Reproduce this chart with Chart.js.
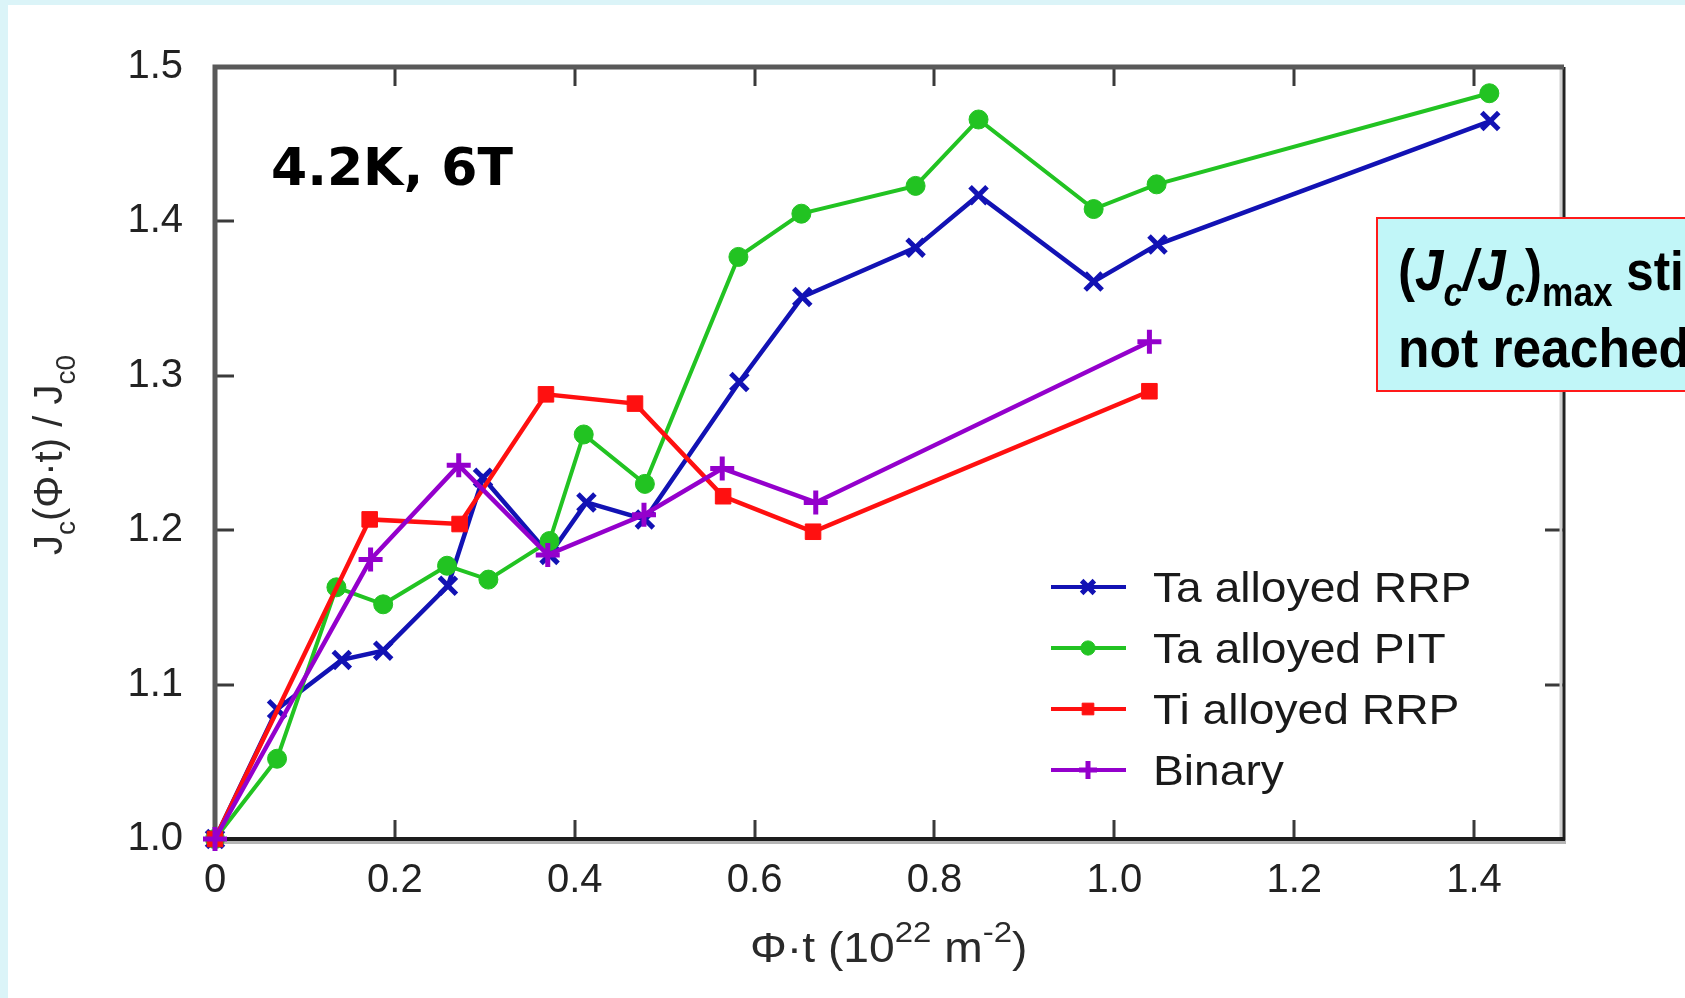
<!DOCTYPE html>
<html>
<head>
<meta charset="utf-8">
<title>Jc(fluence) / Jc0</title>
<script src="https://cdn.jsdelivr.net/npm/chart.js@4/dist/chart.umd.min.js"></script>
<style>
  html, body { margin: 0; padding: 0; }
  body { width: 1685px; height: 998px; background: #dbf4f8; position: relative; overflow: hidden; }
  #panel { position: absolute; left: 8px; top: 5px; right: 0; bottom: 0; background: #fff; }
  #fluenceChart { position: absolute; left: 0; top: 0; }
</style>
</head>
<body>
<div id="panel"></div>
<canvas id="fluenceChart" width="1685" height="998"></canvas>
<script>
// fluence (10^22 m^-2) vs Jc/Jc0
const taRrpX = [0, 0.069, 0.141, 0.187, 0.259, 0.298, 0.372, 0.413, 0.478, 0.583, 0.653, 0.779, 0.849, 0.977, 1.048, 1.418];
const taRrpY = [1.0, 1.084, 1.116, 1.122, 1.164, 1.234, 1.184, 1.218, 1.207, 1.296, 1.351, 1.383, 1.417, 1.361, 1.385, 1.465];

const taPitX = [0, 0.069, 0.135, 0.187, 0.258, 0.304, 0.372, 0.410, 0.478, 0.582, 0.652, 0.779, 0.849, 0.977, 1.047, 1.417];
const taPitY = [1.0, 1.052, 1.163, 1.152, 1.177, 1.168, 1.193, 1.262, 1.230, 1.377, 1.405, 1.423, 1.466, 1.408, 1.424, 1.483];

const tiRrpX = [0, 0.172, 0.272, 0.368, 0.467, 0.565, 0.665, 1.039];
const tiRrpY = [1.0, 1.207, 1.204, 1.288, 1.282, 1.222, 1.199, 1.290];

const binaryX = [0, 0.173, 0.271, 0.370, 0.477, 0.564, 0.668, 1.039];
const binaryY = [1.0, 1.181, 1.242, 1.184, 1.210, 1.240, 1.218, 1.322];

const seriesNames = ["Ta alloyed RRP", "Ta alloyed PIT", "Ti alloyed RRP", "Binary"];

const xTicks = [0, 0.2, 0.4, 0.6, 0.8, 1.0, 1.2, 1.4];
const xTickLabels = ["0", "0.2", "0.4", "0.6", "0.8", "1.0", "1.2", "1.4"];
const yTicks = [1.0, 1.1, 1.2, 1.3, 1.4, 1.5];
const yTickLabels = ["1.0", "1.1", "1.2", "1.3", "1.4", "1.5"];

const SANS = '"Liberation Sans", Arial, Helvetica, sans-serif';

function toPoints(xs, ys) {
    return xs.map((x, i) => ({ x: x, y: ys[i] }));
}

// draw a row of text pieces (for sub/superscripts), optionally stretched horizontally
function drawRuns(ctx, x, y, runs, sx) {
    ctx.save();
    ctx.translate(x, y);
    ctx.scale(sx || 1, 1);
    let cx = 0;
    runs.forEach(r => {
        ctx.font = r.font;
        ctx.fillText(r.t, cx, r.dy || 0);
        cx += ctx.measureText(r.t).width;
    });
    ctx.restore();
}

function runsWidth(ctx, runs) {
    let w = 0;
    runs.forEach(r => { ctx.font = r.font; w += ctx.measureText(r.t).width; });
    return w;
}

// frame with inward ticks on all four sides
const framePlugin = {
    id: "frame",
    beforeDatasetsDraw(chart) {
        const ctx = chart.ctx;
        const a = chart.chartArea;
        const xs = chart.scales.x, ys = chart.scales.y;
        ctx.save();
        ctx.lineCap = "butt";

        // ticks
        ctx.strokeStyle = "#3a3a3a";
        ctx.lineWidth = 3;
        const tl = 19;
        xTicks.forEach(v => {
            const px = Math.round(xs.getPixelForValue(v));
            ctx.beginPath();
            ctx.moveTo(px, a.bottom); ctx.lineTo(px, a.bottom - tl);
            ctx.moveTo(px, a.top); ctx.lineTo(px, a.top + tl);
            ctx.stroke();
        });
        yTicks.forEach(v => {
            const py = Math.round(ys.getPixelForValue(v));
            ctx.beginPath();
            ctx.moveTo(a.left, py); ctx.lineTo(a.left + tl, py);
            ctx.moveTo(a.right, py); ctx.lineTo(a.right - tl, py);
            ctx.stroke();
        });

        // right edge: light shadow + dark line
        ctx.strokeStyle = "#d0d0d0";
        ctx.lineWidth = 3;
        ctx.beginPath(); ctx.moveTo(a.right - 3, a.top); ctx.lineTo(a.right - 3, a.bottom); ctx.stroke();
        ctx.strokeStyle = "#222";
        ctx.beginPath(); ctx.moveTo(a.right, a.top); ctx.lineTo(a.right, a.bottom + 2); ctx.stroke();

        // bottom: gray shadow under a black line
        ctx.strokeStyle = "#b5b5b5";
        ctx.lineWidth = 4;
        ctx.beginPath(); ctx.moveTo(a.left, a.bottom + 3); ctx.lineTo(a.right + 2, a.bottom + 3); ctx.stroke();
        ctx.strokeStyle = "#1c1c1c";
        ctx.lineWidth = 4;
        ctx.beginPath(); ctx.moveTo(a.left, a.bottom); ctx.lineTo(a.right + 1, a.bottom); ctx.stroke();

        // left and top
        ctx.strokeStyle = "#595959";
        ctx.lineWidth = 5;
        ctx.beginPath();
        ctx.moveTo(a.left, a.bottom); ctx.lineTo(a.left, a.top);
        ctx.lineTo(a.right, a.top);
        ctx.stroke();
        ctx.restore();
    }
};

const labelsPlugin = {
    id: "labels",
    afterDraw(chart) {
        const ctx = chart.ctx;
        ctx.save();
        ctx.textBaseline = "alphabetic";
        ctx.textAlign = "left";

        // legend inside the plot
        const rowTop = 587, rowGap = 61;
        chart.data.datasets.forEach((ds, i) => {
            const yy = rowTop + i * rowGap;
            ctx.strokeStyle = ds.borderColor;
            ctx.lineWidth = 4;
            ctx.beginPath(); ctx.moveTo(1051, yy); ctx.lineTo(1126, yy); ctx.stroke();
            ctx.fillStyle = ds.pointBackgroundColor;
            ctx.strokeStyle = ds.pointBorderColor;
            ctx.lineWidth = ds.pointBorderWidth;
            if (Chart.helpers && Chart.helpers.drawPoint) {
                Chart.helpers.drawPoint(ctx, {
                    pointStyle: ds.pointStyle, radius: ds.pointRadius * 0.75,
                    borderWidth: ds.pointBorderWidth, rotation: 0
                }, 1088, yy);
            }
            ctx.fillStyle = "#1a1a1a";
            drawRuns(ctx, 1153, yy + 15, [{ t: seriesNames[i], font: "42px " + SANS }], 1.1);
        });

        // condition label
        ctx.fillStyle = "#000";
        ctx.font = 'bold 52px "DejaVu Sans", sans-serif';
        ctx.fillText("4.2K, 6T", 271, 185);

        // x axis title
        ctx.fillStyle = "#2a2a2a";
        drawRuns(ctx, 750, 962, [
            { t: "\u03A6\u00B7t (10", font: "42px " + SANS },
            { t: "22", font: "30px " + SANS, dy: -20 },
            { t: " m", font: "42px " + SANS },
            { t: "-2", font: "30px " + SANS, dy: -20 },
            { t: ")", font: "42px " + SANS }
        ], 1.1);

        // y axis title, rotated
        const yRuns = [
            { t: "J", font: "40px " + SANS },
            { t: "c", font: "28px " + SANS, dy: 13 },
            { t: "(\u03A6\u00B7t) / J", font: "40px " + SANS },
            { t: "c0", font: "28px " + SANS, dy: 13 }
        ];
        const yw = runsWidth(ctx, yRuns);
        ctx.save();
        ctx.translate(62, 455);
        ctx.rotate(-Math.PI / 2);
        drawRuns(ctx, -yw / 2, 0, yRuns, 1);
        ctx.restore();

        // annotation box
        ctx.fillStyle = "#c1f6f8";
        ctx.fillRect(1376, 217, 330, 175);
        ctx.strokeStyle = "#ff1a1a";
        ctx.lineWidth = 2;
        ctx.strokeRect(1377, 218, 330, 173);
        ctx.fillStyle = "#000";
        const B = "bold 58px " + SANS, BI = "italic bold 58px " + SANS;
        const SBI = "italic bold 40px " + SANS, SB = "bold 40px " + SANS;
        drawRuns(ctx, 1398, 290, [
            { t: "(", font: B },
            { t: "J", font: BI },
            { t: "c", font: SBI, dy: 16 },
            { t: "/", font: BI },
            { t: "J", font: BI },
            { t: "c", font: SBI, dy: 16 },
            { t: ")", font: B },
            { t: "max", font: SB, dy: 16 },
            { t: " still", font: "bold 56px " + SANS }
        ], 0.88);
        drawRuns(ctx, 1398, 367, [
            { t: "not reached", font: "bold 56px " + SANS }
        ], 0.92);
        ctx.restore();
    }
};

const ctx = document.getElementById("fluenceChart").getContext("2d");

new Chart(ctx, {
    type: "line",
    data: {
        datasets: [
            {
                label: seriesNames[0],
                data: toPoints(taRrpX, taRrpY),
                borderColor: "#1212b4",
                pointBackgroundColor: "#1212b4",
                pointBorderColor: "#1212b4",
                pointStyle: "crossRot",
                pointRadius: 12,
                pointBorderWidth: 5,
                borderWidth: 4.5,
                order: 4
            },
            {
                label: seriesNames[1],
                data: toPoints(taPitX, taPitY),
                borderColor: "#22c322",
                pointBackgroundColor: "#22c322",
                pointBorderColor: "#22c322",
                pointStyle: "circle",
                pointRadius: 9.5,
                pointBorderWidth: 1,
                borderWidth: 4,
                order: 3
            },
            {
                label: seriesNames[2],
                data: toPoints(tiRrpX, tiRrpY),
                borderColor: "#ff1010",
                pointBackgroundColor: "#ff1010",
                pointBorderColor: "#ff1010",
                pointStyle: "rect",
                pointRadius: 11,
                pointBorderWidth: 1,
                borderWidth: 4.5,
                order: 2
            },
            {
                label: seriesNames[3],
                data: toPoints(binaryX, binaryY),
                borderColor: "#9400cc",
                pointBackgroundColor: "#9400cc",
                pointBorderColor: "#9400cc",
                pointStyle: "cross",
                pointRadius: 12,
                pointBorderWidth: 5,
                borderWidth: 4.5,
                order: 1
            }
        ]
    },
    options: {
        responsive: false,
        animation: false,
        layout: { padding: { top: 67, right: 121, left: 0, bottom: 0 } },
        elements: { line: { tension: 0, fill: false } },
        datasets: { line: { clip: false } },
        scales: {
            x: {
                type: "linear",
                min: 0,
                max: 1.5,
                afterBuildTicks: s => { s.ticks = xTicks.map(v => ({ value: v })); },
                afterFit: s => { s.height = 159; },
                grid: { display: false, drawTicks: false },
                border: { display: false },
                ticks: {
                    autoSkip: false,
                    maxRotation: 0,
                    padding: 18,
                    color: "#222",
                    font: { family: SANS, size: 40 },
                    callback: (v, i) => xTickLabels[i]
                }
            },
            y: {
                type: "linear",
                min: 1.0,
                max: 1.5,
                afterBuildTicks: s => { s.ticks = yTicks.map(v => ({ value: v })); },
                afterFit: s => { s.width = 215; },
                grid: { display: false, drawTicks: false },
                border: { display: false },
                ticks: {
                    autoSkip: false,
                    padding: 32,
                    color: "#222",
                    font: { family: SANS, size: 40 },
                    callback: (v, i) => yTickLabels[i]
                }
            }
        },
        plugins: {
            legend: { display: false },
            tooltip: { enabled: false }
        }
    },
    plugins: [framePlugin, labelsPlugin]
});
</script>
</body>
</html>
